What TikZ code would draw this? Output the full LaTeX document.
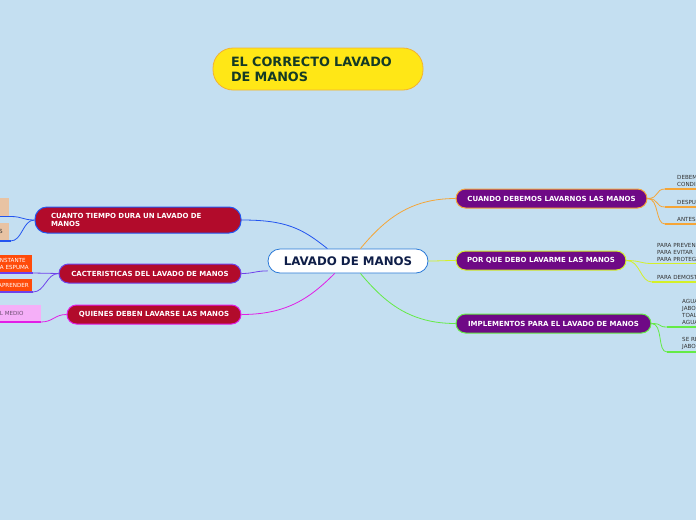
\documentclass[tikz,border=0pt]{standalone}
\usepackage{fontspec}
\setmainfont{DejaVu Sans}
\usepackage{tikz}

\definecolor{bgblue}{RGB}{196,223,241}
\definecolor{titleyellow}{RGB}{255,231,22}
\definecolor{titleedge}{RGB}{242,178,52}
\definecolor{titlegreen}{RGB}{20,58,38}
\definecolor{centerblue}{RGB}{40,120,215}
\definecolor{navy}{RGB}{15,30,72}
\definecolor{mmpurple}{RGB}{111,9,134}
\definecolor{mmred}{RGB}{178,11,43}
\definecolor{lineorange}{RGB}{245,165,55}
\definecolor{lineyellow}{RGB}{212,240,40}
\definecolor{linegreen}{RGB}{100,235,70}
\definecolor{lineblue}{RGB}{35,85,240}
\definecolor{linepurple}{RGB}{110,65,235}
\definecolor{linemagenta}{RGB}{225,30,230}
\definecolor{tanbox}{RGB}{232,195,163}
\definecolor{orangered}{RGB}{255,75,10}
\definecolor{pinkbox}{RGB}{245,175,248}
\definecolor{pinktext}{RGB}{110,80,115}
\definecolor{leafgray}{RGB}{50,50,50}

\newcommand{\edgepad}{\hspace*{3pt}}

\begin{document}
\begin{tikzpicture}[x=1pt, y=-1pt,
        topic/.style={rectangle, rounded corners=9.5pt, draw, line width=1pt, text=white, font=\bfseries\fontsize{7}{8}\selectfont, minimum height=19pt, inner sep=0pt},
        rtopic/.style={topic, fill=mmpurple},
        ltopic/.style={topic, fill=mmred},
        leaf/.style={anchor=south west, align=left, inner xsep=0pt, inner ysep=2pt, text=leafgray, font=\fontsize{5.6}{7}\selectfont},
        stub/.style={anchor=south east, align=left, inner xsep=3pt, inner ysep=2pt, font=\fontsize{5.6}{7}\selectfont},
        link/.style={line width=0.8pt},
        uline/.style={line width=1.6pt}
    ]
        \useasboundingbox (0,0) rectangle (696,520);
        \fill[bgblue] (0,0) rectangle (696,520);
        \coordinate (borde) at (700,0);

        % Title
        \node[fill=titleyellow, draw=titleedge, line width=0.8pt, rounded corners=20pt, text width=174pt, inner xsep=18pt, inner ysep=0pt, minimum height=42pt, align=left, text=titlegreen, font=\bfseries\fontsize{12.8}{15}\selectfont] (titulo) at (318,69) {EL CORRECTO LAVADO\\DE MANOS};

        % Central topic
        \node[fill=white, draw=centerblue, line width=0.8pt, rounded corners=12pt, minimum width=160pt, minimum height=24pt, inner sep=0pt, text=navy, font=\bfseries\fontsize{11.8}{14}\selectfont] (lavado) at (348,261) {LAVADO DE MANOS};

        % Right topics
        \node[rtopic, draw=lineorange, minimum width=191pt] (cuando) at (551.5,198.5) {CUANDO DEBEMOS LAVARNOS LAS MANOS};
        \node[rtopic, draw=lineyellow, minimum width=170pt] (porque) at (541,260.5) {POR QUE DEBO LAVARME LAS MANOS};
        \node[rtopic, draw=linegreen, minimum width=195pt] (implementos) at (553.5,323.5) {IMPLEMENTOS PARA EL LAVADO DE MANOS};

        % Left topics
        \node[ltopic, draw=lineblue, minimum height=26pt, rounded corners=12pt, text width=174pt, inner xsep=16pt, align=left] (cuanto) at (138,220) {CUANTO TIEMPO DURA UN LAVADO DE\\MANOS};
        \node[ltopic, draw=linepurple, minimum width=182pt] (caract) at (150,273.5) {CACTERISTICAS DEL LAVADO DE MANOS};
        \node[ltopic, draw=linemagenta, minimum width=174pt] (quienes) at (154,314.5) {QUIENES DEBEN LAVARSE LAS MANOS};

        % Right leaves
        \node[leaf] (debemos) at (677,189) {DEBEM\\CONDI};
        \node[leaf] (despues) at (677,207) {DESPU};
        \node[leaf] (antes) at (677,224) {ANTES};
        \node[leaf] (prevenir) at (657,263.5) {PARA PREVEN\\PARA EVITAR\\PARA PROTEG};
        \node[leaf] (demostrar) at (657,282) {PARA DEMOST};
        \node[leaf] (agua) at (682,327) {AGUA\\JABO\\TOAL\\AGUA};
        \node[leaf] (sere) at (682,352) {SE RE\\JABO};

        % Left leaves
        \node[stub, fill=tanbox, minimum height=18pt, minimum width=20pt] (tiempo1) at (9,216.5) {};
        \node[stub, fill=tanbox, text=leafgray, minimum height=18pt, inner xsep=6pt] (tiempo2) at (9,241) {S};
        \node[stub, fill=orangered, text=white, minimum height=18pt] (constante) at (32,273) {\edgepad NSTANTE\\\edgepad A ESPUMA};
        \node[stub, fill=orangered, text=white, minimum height=13pt] (aprender) at (32,292) {\edgepad APRENDER};
        \node[stub, fill=pinkbox, text=pinktext, minimum height=17pt, text width=42pt, inner xsep=2pt] (medio) at (41,322) {\edgepad L MEDIO};

        % Links from the central topic
        \draw[link, lineorange] (lavado.45) .. controls +(25,-30) and +(-45,0) .. (cuando.west);
        \draw[link, lineyellow] (lavado.east) .. controls +(12,0) and +(-12,0) .. (porque.west);
        \draw[link, linegreen] (lavado.-45) .. controls +(25,30) and +(-45,0) .. (implementos.west);
        \draw[link, lineblue] (lavado.149) .. controls +(-25,-20) and +(45,0) .. (cuanto.east);
        \draw[link, linepurple] (lavado.187) .. controls +(-12,0) and +(12,0) .. (caract.east);
        \draw[link, linemagenta] (lavado.223) .. controls +(-25,25) and +(45,0) .. (quienes.east);

        % Right leaf links
        \foreach \leafname in {debemos, despues, antes} {
            \draw[link, lineorange] (cuando.east) .. controls +(12,0) and +(-10,0) .. ([xshift=-12pt]\leafname.south west);
            \draw[uline, lineorange] ([xshift=-12pt]\leafname.south west) -- (\leafname.south west -| borde);
        }
        \foreach \leafname in {prevenir, demostrar} {
            \draw[link, lineyellow] (porque.east) .. controls +(14,0) and +(-12,0) .. ([xshift=-5pt]\leafname.south west);
            \draw[uline, lineyellow] ([xshift=-5pt]\leafname.south west) -- (\leafname.south west -| borde);
        }
        \foreach \leafname in {agua, sere} {
            \draw[link, linegreen] (implementos.east) .. controls +(12,0) and +(-10,0) .. ([xshift=-15pt]\leafname.south west);
            \draw[uline, linegreen] ([xshift=-15pt]\leafname.south west) -- (\leafname.south west -| borde);
        }

        % Left leaf links
        \foreach \leafname in {tiempo1, tiempo2} {
            \draw[uline, lineblue] (\leafname.south west) -- ([xshift=1.5pt]\leafname.south east);
            \draw[link, lineblue] ([xshift=1.5pt]\leafname.south east) .. controls +(12,0) and +(-12,0) .. (cuanto.west);
        }
        \foreach \leafname in {constante, aprender} {
            \draw[uline, linepurple] (\leafname.south west) -- ([xshift=1pt]\leafname.south east);
            \draw[link, linepurple] ([xshift=1pt]\leafname.south east) .. controls +(12,0) and +(-12,0) .. (caract.west);
        }
        \draw[uline, linemagenta] (medio.south west) -- (medio.south east);
        \draw[link, linemagenta] (medio.south east) .. controls +(12,0) and +(-12,0) .. (quienes.west);

    \end{tikzpicture}
\end{document}
